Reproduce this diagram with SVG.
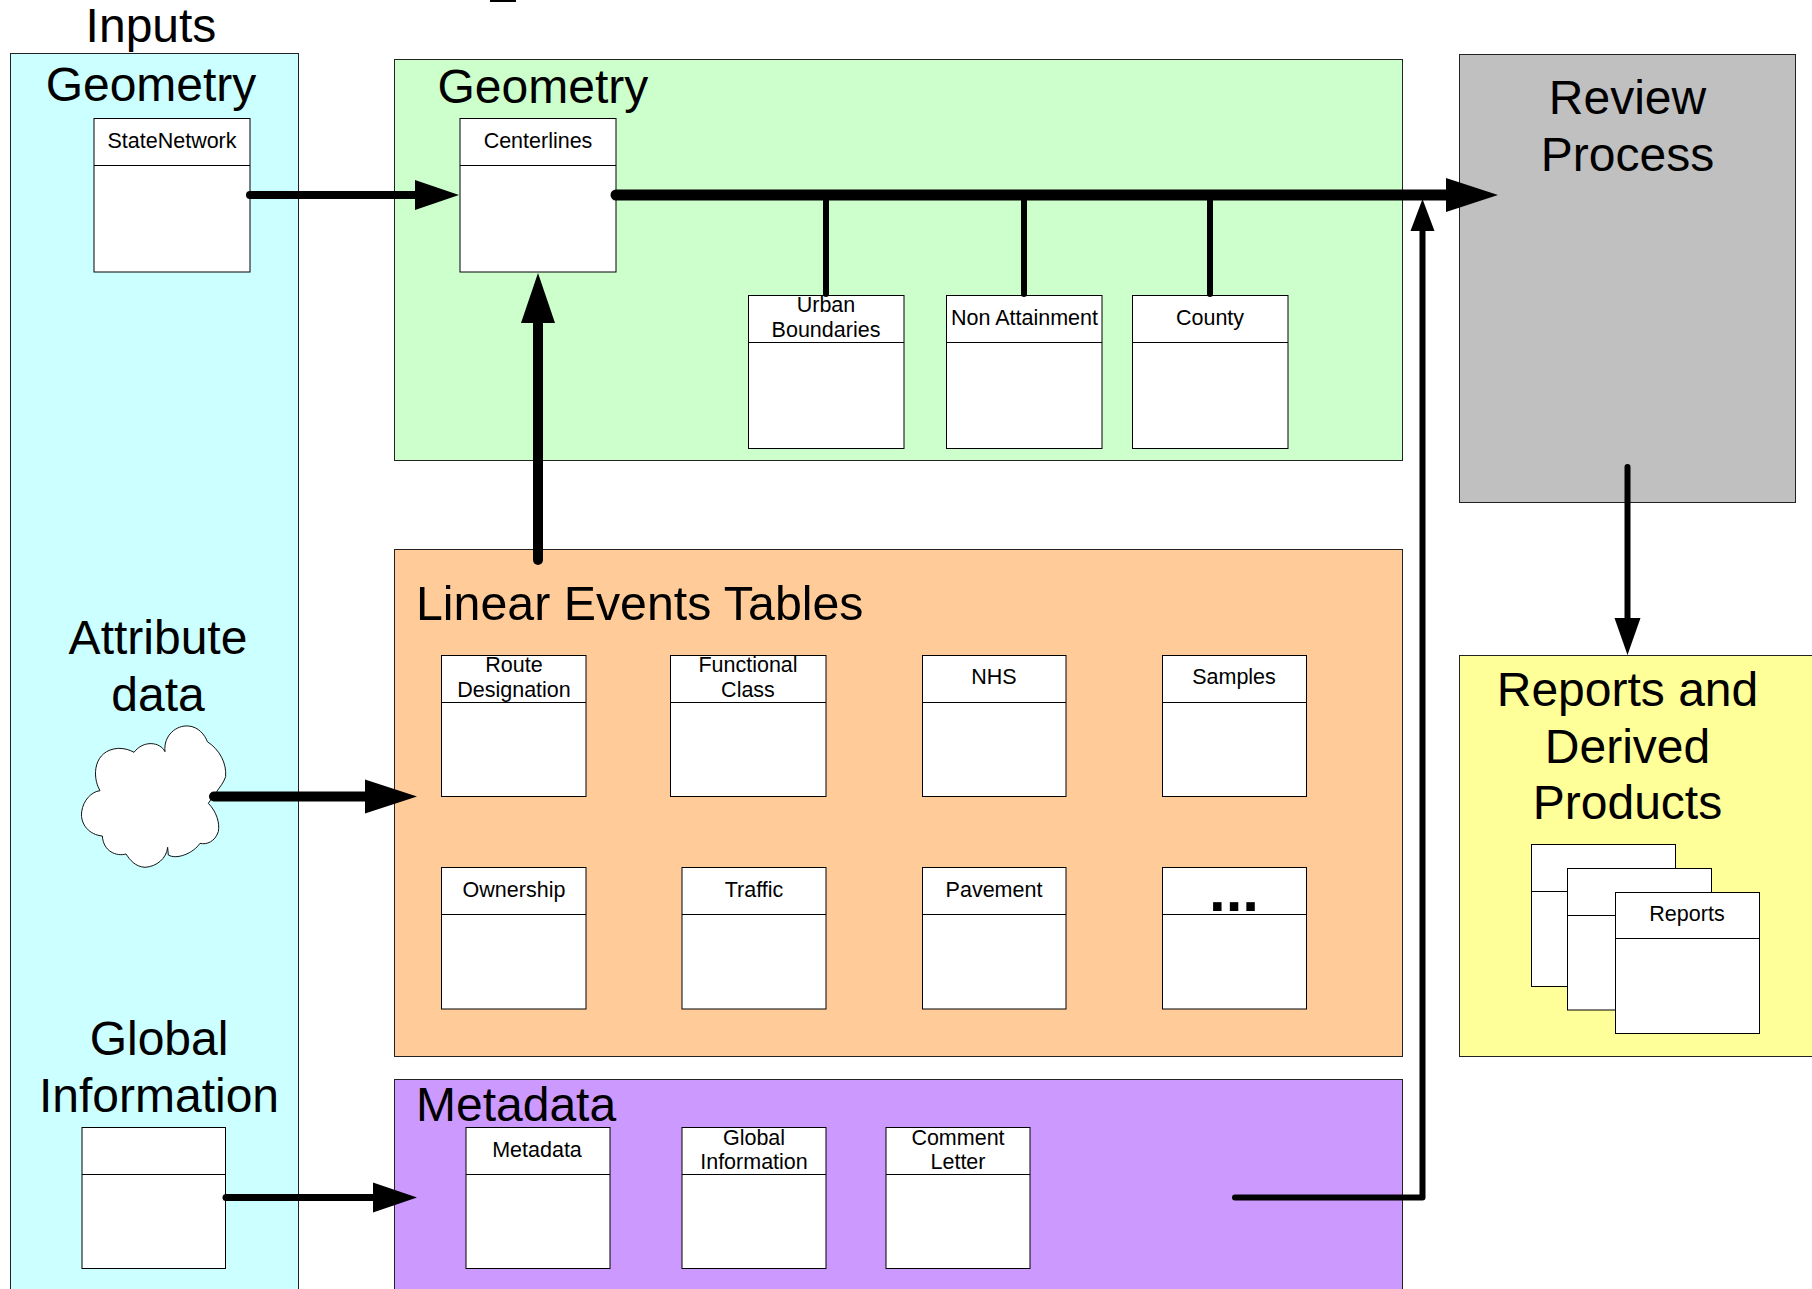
<svg xmlns="http://www.w3.org/2000/svg" width="1812" height="1289" viewBox="0 0 1812 1289">
<style>
text{font-family:"Liberation Sans",Arial,sans-serif;fill:#000;text-anchor:middle}
.t{font-size:48px}.s{font-size:21.5px}.l{text-anchor:start}
.p{stroke:#222;stroke-width:1}
.b{fill:#fff;stroke:#000;stroke-width:1}
.c{fill:none;stroke:#000;stroke-linecap:round;stroke-linejoin:round}
.h{fill:#000}
</style>
<rect width="1812" height="1289" fill="#fff"/>
<rect x="490" y="-2" width="26" height="4" fill="#000"/>
<g id="inputs">
<rect class="p" x="10.500" y="53.500" width="288" height="1240" fill="#CCFFFF"/>
<text class="t" x="151" y="42">Inputs</text>
<text class="t" x="151" y="101">Geometry</text>
<text class="t" x="158" y="654">Attribute</text>
<text class="t" x="158" y="711">data</text>
<text class="t" x="159" y="1055">Global</text>
<text class="t" x="159" y="1112">Information</text>
</g>
<g id="geometry">
<rect class="p" x="394.500" y="59.500" width="1008" height="401" fill="#CCFFCC"/>
<text class="t l" x="437.500" y="103">Geometry</text>
</g>
<g id="review">
<rect class="p" x="1459.500" y="54.500" width="336" height="448" fill="#C0C0C0"/>
<text class="t" x="1627.500" y="114">Review</text>
<text class="t" x="1627.500" y="170.500">Process</text>
</g>
<g id="linear-events">
<rect class="p" x="394.500" y="549.500" width="1008" height="507" fill="#FFCC99"/>
<text class="t l" x="416" y="620" style="font-size:48.300px">Linear Events Tables</text>
</g>
<g id="metadata-panel">
<rect class="p" x="394.500" y="1079.500" width="1008" height="214" fill="#CC99FF"/>
<text class="t l" x="416" y="1120.500">Metadata</text>
</g>
<g id="reports-panel">
<rect class="p" x="1459.500" y="655.500" width="357" height="401" fill="#FFFF99"/>
<text class="t" x="1627.500" y="706">Reports and</text>
<text class="t" x="1627.500" y="762.500">Derived</text>
<text class="t" x="1627.500" y="819">Products</text>
</g>
<g id="statenetwork"><rect class="b" x="94" y="118.500" width="156" height="153.500"/><path class="b" d="M94 165.500H250"/><text class="s" x="172" y="148">StateNetwork</text></g>
<g id="centerlines"><rect class="b" x="460" y="118.500" width="156" height="153.500"/><path class="b" d="M460 165.500H616"/><text class="s" x="538" y="148">Centerlines</text></g>
<g id="urban"><rect class="b" x="748.500" y="295.500" width="155.500" height="153"/><path class="b" d="M748.500 342.500H904"/><text class="s" x="826" y="312">Urban</text><text class="s" x="826" y="337">Boundaries</text></g>
<g id="nonattainment"><rect class="b" x="946.500" y="295.500" width="155.500" height="153"/><path class="b" d="M946.500 342.500H1102"/><text class="s" x="1024.500" y="325">Non Attainment</text></g>
<g id="county"><rect class="b" x="1132.500" y="295.500" width="155.500" height="153"/><path class="b" d="M1132.500 342.500H1288"/><text class="s" x="1210" y="325">County</text></g>
<g id="cloud"><path transform="translate(60 700) scale(.3333)" fill="#fff" stroke="#111" stroke-width="3" d="M120 272C95 230 100 150 175 145C195 145 210 150 222 157C250 120 300 125 315 155C310 105 350 75 385 78C415 80 435 105 442 125C480 150 500 190 497 230C490 250 480 260 470 275L445 310C470 335 480 370 475 395C465 425 440 435 420 430C400 460 350 480 325 465L323 442C320 475 290 500 255 502C225 500 210 480 198 462C170 470 130 455 127 408C90 405 60 375 65 335C70 300 95 275 120 272Z"/></g>
<g id="route"><rect class="b" x="441.500" y="655.500" width="144.500" height="141"/><path class="b" d="M441.500 702.500H586"/><text class="s" x="514" y="672">Route</text><text class="s" x="514" y="697">Designation</text></g>
<g id="functional"><rect class="b" x="670.500" y="655.500" width="155.500" height="141"/><path class="b" d="M670.500 702.500H826"/><text class="s" x="748" y="672">Functional</text><text class="s" x="748" y="697">Class</text></g>
<g id="nhs"><rect class="b" x="922.500" y="655.500" width="143.500" height="141"/><path class="b" d="M922.500 702.500H1066"/><text class="s" x="994" y="684">NHS</text></g>
<g id="samples"><rect class="b" x="1162.500" y="655.500" width="144" height="141"/><path class="b" d="M1162.500 702.500H1306.500"/><text class="s" x="1234" y="684">Samples</text></g>
<g id="ownership"><rect class="b" x="441.500" y="867.500" width="144.500" height="141.500"/><path class="b" d="M441.500 914.500H586"/><text class="s" x="514" y="897">Ownership</text></g>
<g id="traffic"><rect class="b" x="682" y="867.500" width="144" height="141.500"/><path class="b" d="M682 914.500H826"/><text class="s" x="754" y="897">Traffic</text></g>
<g id="pavement"><rect class="b" x="922.500" y="867.500" width="143.500" height="141.500"/><path class="b" d="M922.500 914.500H1066"/><text class="s" x="994" y="897">Pavement</text></g>
<g id="more"><rect class="b" x="1162.500" y="867.500" width="144" height="141.500"/><path class="b" d="M1162.500 914.500H1306.500"/><text x="1234" y="911" style="font-size:60px;font-weight:bold">...</text></g>
<g id="global-in"><rect class="b" x="82" y="1127.500" width="143.500" height="141"/><path class="b" d="M82 1174.500H225.500"/></g>
<g id="metadata"><rect class="b" x="466" y="1127.500" width="144" height="141"/><path class="b" d="M466 1174.500H610"/><text class="s" x="537" y="1157">Metadata</text></g>
<g id="global"><rect class="b" x="682" y="1127.500" width="144" height="141"/><path class="b" d="M682 1174.500H826"/><text class="s" x="754" y="1145">Global</text><text class="s" x="754" y="1169">Information</text></g>
<g id="comment"><rect class="b" x="886" y="1127.500" width="144" height="141"/><path class="b" d="M886 1174.500H1030"/><text class="s" x="958" y="1145">Comment</text><text class="s" x="958" y="1169">Letter</text></g>
<g id="report1"><rect class="b" x="1531.500" y="844.500" width="144" height="142"/><path class="b" d="M1531.500 891.500H1675.500"/></g>
<g id="report2"><rect class="b" x="1567.500" y="868.500" width="144" height="141.500"/><path class="b" d="M1567.500 915.500H1711.500"/></g>
<g id="report3"><rect class="b" x="1615.500" y="892.500" width="144" height="141"/><path class="b" d="M1615.500 938.500H1759.500"/><text class="s" x="1687" y="921">Reports</text></g>
<g id="connectors">
<path class="c" stroke-width="8" d="M250 195H420"/><polygon class="h" points="459,195 415,180 415,210"/>
<path class="c" stroke-width="11" d="M616 195H1450"/><polygon class="h" points="1498,195 1446,178 1446,212"/>
<path class="c" stroke-width="6" d="M826 195V294M1024 195V294M1210 195V294"/>
<path class="c" stroke-width="10" d="M538 560V320"/><polygon class="h" points="538,273 521,323 555,323"/>
<path class="c" stroke-width="10" d="M214 796.500H370"/><polygon class="h" points="417,796.500 365,779.500 365,813.500"/>
<path class="c" stroke-width="7" d="M226 1197.500H378"/><polygon class="h" points="417,1197.500 373,1182.500 373,1212.500"/>
<path class="c" stroke-width="6" d="M1235 1197.500H1422.500V228"/><polygon class="h" points="1422.500,199 1410.500,231 1434.500,231"/>
<path class="c" stroke-width="6" d="M1627.500 467V622"/><polygon class="h" points="1627.500,655 1614.500,618 1640.500,618"/>
</g>
</svg>
